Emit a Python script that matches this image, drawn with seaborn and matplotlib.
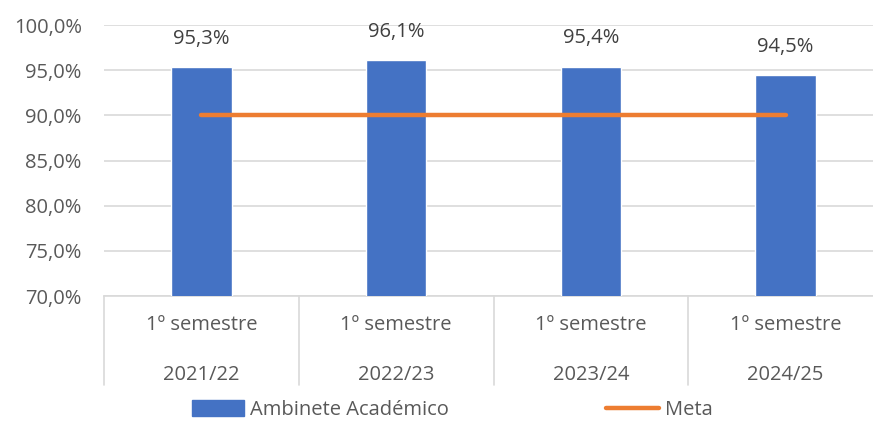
import pandas as pd
import matplotlib.pyplot as plt
import matplotlib.transforms as mtransforms
from matplotlib.lines import Line2D
from matplotlib.patches import Patch
import seaborn as sns

# data
semesters = ["1º semestre", "1º semestre", "1º semestre", "1º semestre"]
years = ["2021/22", "2022/23", "2023/24", "2024/25"]
ambiente = [95.3, 96.1, 95.4, 94.5]
meta = [90.0, 90.0, 90.0, 90.0]

BLUE = "#4472C4"
ORANGE = "#ED7D31"
GREY_TXT = "#595959"
GRID = "#D9D9D9"
FS = 14.5

df = pd.DataFrame({"cat": [f"{s}\n{y}" for s, y in zip(semesters, years)],
                   "valor": ambiente, "meta": meta})

sns.set_theme(style="white")
plt.rcParams['font.family'] = ['Open Sans', 'DejaVu Sans']

fig = plt.figure(figsize=(8.73, 4.23), dpi=100)
ax = fig.add_axes([104 / 873, 1 - 296 / 423, (883 - 104) / 873, (296 - 25) / 423])

sns.barplot(data=df, x="cat", y="valor", color=BLUE, width=0.31,
            saturation=1, ax=ax, zorder=3)
ax.plot(range(len(meta)), df["meta"], color=ORANGE, lw=3.2,
        solid_capstyle="round", zorder=4)

ax.set_ylim(70, 100)
ax.set_yticks([70, 75, 80, 85, 90, 95, 100])
ax.set_yticklabels([f"{v:.1f}%".replace(".", ",") for v in range(70, 101, 5)],
                   fontsize=FS, color=GREY_TXT)
ax.yaxis.grid(True, color=GRID, lw=1.2, zorder=0)
ax.set_xlim(-0.5, len(years) - 0.5)
for s in ["top", "right", "left"]:
    ax.spines[s].set_visible(False)
ax.spines["bottom"].set_color(GRID)
ax.spines["bottom"].set_linewidth(1.2)
ax.tick_params(axis="y", length=0, pad=16)
ax.set_xticks([])
ax.set_xlabel("")
ax.set_ylabel("")

# value labels
for i, v in enumerate(ambiente):
    ax.text(i, v + 2.0, f"{v:.1f}%".replace(".", ","), ha="center", va="bottom",
            fontsize=FS, color="#404040")

# multi-level category axis
trans = mtransforms.blended_transform_factory(ax.transData, ax.transAxes)
px = 1 / (296 - 25)
for i, (s, y) in enumerate(zip(semesters, years)):
    ax.text(i, -(325 - 296) * px, s, transform=trans, ha="center", va="center",
            fontsize=FS, color=GREY_TXT, clip_on=False)
    ax.text(i, -(375 - 296) * px, y, transform=trans, ha="center", va="center",
            fontsize=FS, color=GREY_TXT, clip_on=False)
for b in [-0.5, 0.5, 1.5, 2.5, 3.5]:
    ax.add_line(Line2D([b, b], [0, -(385 - 296) * px], transform=trans,
                       color=GRID, lw=1.2, clip_on=False))

# legend
handles = [Patch(color=BLUE, label="Ambinete Académico"),
           Line2D([], [], color=ORANGE, lw=3.2, label="Meta")]
fig.legend(handles=handles, loc="center", bbox_to_anchor=(0.518, 1 - 410 / 423),
           ncol=2, frameon=False, fontsize=FS, handlelength=2.6,
           handleheight=0.8, columnspacing=7.8, handletextpad=0.3,
           labelcolor=GREY_TXT)

fig.savefig("out.png", dpi=100)
